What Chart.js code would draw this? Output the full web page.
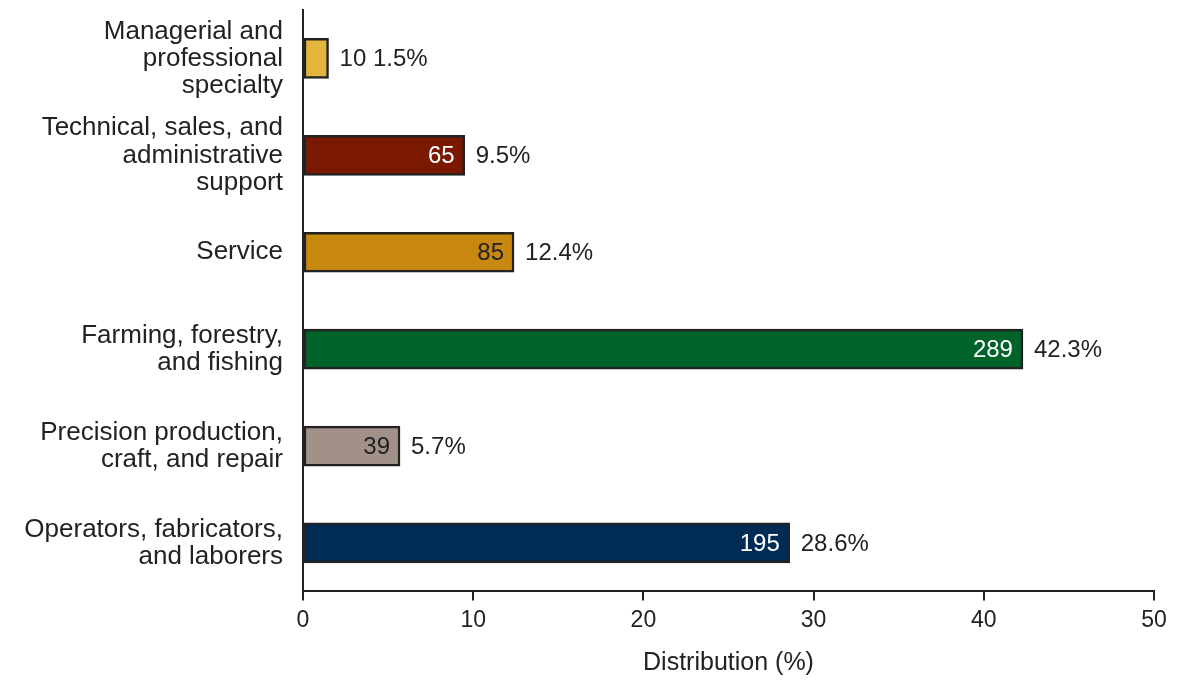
<!DOCTYPE html>
<html lang="en">
<head>
  <meta charset="UTF-8" />
  <title>Distribution by occupation</title>
  <script src="https://cdn.jsdelivr.net/npm/chart.js"></script>
  <style>
    html, body { margin: 0; padding: 0; background: #fff; }
    #wrap { width: 1186px; height: 680px; }
  </style>
</head>
<body>
  <div id="wrap"><canvas id="chart" width="1186" height="680"></canvas></div>
  <script>
    // datos
    const categories = [
      ['Managerial and', 'professional', 'specialty'],
      ['Technical, sales, and', 'administrative', 'support'],
      ['Service'],
      ['Farming, forestry,', 'and fishing'],
      ['Precision production,', 'craft, and repair'],
      ['Operators, fabricators,', 'and laborers']
    ];
    const percents = [1.5, 9.5, 12.4, 42.3, 5.7, 28.6];
    const counts = [10, 65, 85, 289, 39, 195];
    const barColors = ['#E4B53C', '#7A1900', '#C8870F', '#00632A', '#A29189', '#002B55'];
    const countColors = ['#222', '#fff', '#222', '#fff', '#222', '#fff'];
    const xTicks = [0, 10, 20, 30, 40, 50];

    const FONT = '"Liberation Sans", Arial, Helvetica, sans-serif';
    const INK = '#222';

    // etiquetas: cantidad dentro de la barra, porcentaje fuera
    const barLabels = {
      id: 'barLabels',
      afterDatasetsDraw(chart) {
        const ctx = chart.ctx;
        const meta = chart.getDatasetMeta(0);
        ctx.save();
        ctx.font = '24px ' + FONT;
        ctx.textBaseline = 'middle';
        meta.data.forEach((bar, i) => {
          const { x, y, base } = bar.getProps(['x', 'y', 'base'], true);
          const cnt = String(counts[i]);
          const pct = percents[i].toFixed(1) + '%';
          const w = ctx.measureText(cnt).width;
          if (x - base > w + 16) {
            ctx.fillStyle = countColors[i];
            ctx.textAlign = 'right';
            ctx.fillText(cnt, x - 10, y + 1);
            ctx.fillStyle = INK;
            ctx.textAlign = 'left';
            ctx.fillText(pct, x + 11, y + 1);
          } else {
            ctx.fillStyle = INK;
            ctx.textAlign = 'left';
            ctx.fillText(cnt + ' ' + pct, x + 11, y + 1);
          }
        });
        ctx.restore();
      }
    };

    new Chart(document.getElementById('chart'), {
      type: 'bar',
      data: {
        labels: categories,
        datasets: [{
          data: percents,
          backgroundColor: barColors,
          borderColor: INK,
          borderWidth: 2.5,
          borderSkipped: false,
          barThickness: 40
        }]
      },
      options: {
        indexAxis: 'y',
        responsive: false,
        animation: false,
        layout: { padding: { top: 10, right: 32, bottom: 2, left: 0 } },
        plugins: {
          legend: { display: false },
          tooltip: { enabled: false }
        },
        scales: {
          x: {
            min: 0,
            max: 50,
            afterBuildTicks: (s) => { s.ticks = xTicks.map(v => ({ value: v })); },
            grid: { drawOnChartArea: false, drawTicks: true, tickLength: 9, color: INK, lineWidth: 2 },
            border: { display: true, color: INK, width: 2 },
            ticks: { color: INK, font: { family: FONT, size: 23 }, padding: 6, maxRotation: 0 },
            title: {
              display: true,
              text: 'Distribution (%)',
              color: INK,
              font: { family: FONT, size: 25 },
              padding: { top: 8, bottom: 0 }
            }
          },
          y: {
            grid: { display: false },
            border: { display: true, color: INK, width: 2 },
            afterFit: (s) => {
              s.width = 303;
              s.paddingTop = 0;
              s.paddingBottom = 0;
            },
            ticks: {
              color: INK,
              font: { family: FONT, size: 26, lineHeight: 1.04 },
              padding: 12
            }
          }
        }
      },
      plugins: [barLabels]
    });
  </script>
</body>
</html>
